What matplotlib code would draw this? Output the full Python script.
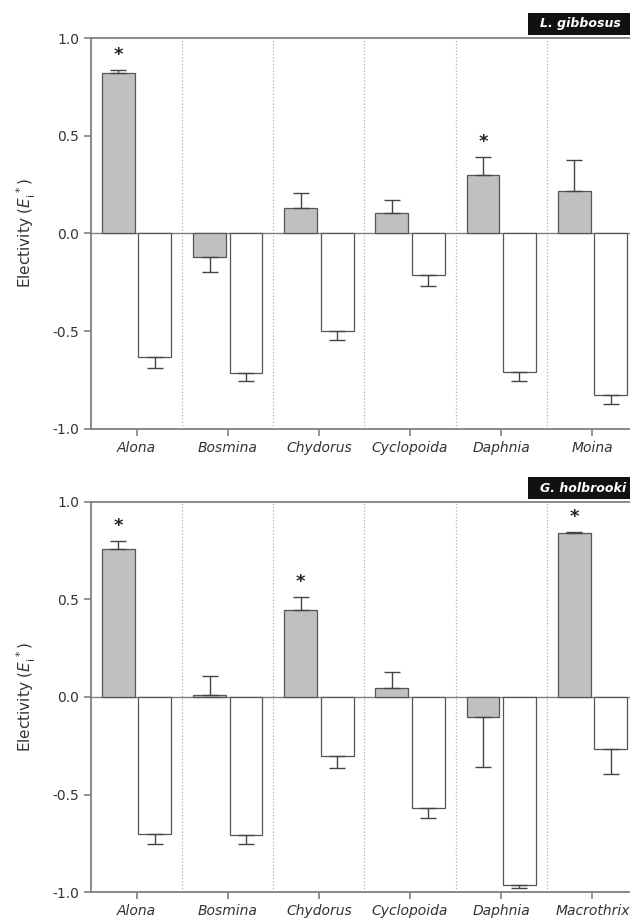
import matplotlib
matplotlib.use("Agg")
import matplotlib.pyplot as plt
import numpy as np
from matplotlib.patches import Rectangle

# top panel: L. gibbosus
taxa_top = ["Alona", "Bosmina", "Chydorus", "Cyclopoida", "Daphnia", "Moina"]
grey_top = [0.82, -0.12, 0.13, 0.105, 0.30, 0.215]
grey_top_err = [0.015, 0.077, 0.077, 0.064, 0.092, 0.162]
white_top = [-0.63, -0.715, -0.497, -0.21, -0.707, -0.826]
white_top_err = [0.056, 0.04, 0.05, 0.056, 0.047, 0.044]
stars_top = [0, 4]

# bottom panel: G. holbrooki
taxa_bot = ["Alona", "Bosmina", "Chydorus", "Cyclopoida", "Daphnia", "Macrothrix"]
grey_bot = [0.758, 0.012, 0.444, 0.045, -0.104, 0.838]
grey_bot_err = [0.043, 0.096, 0.068, 0.083, 0.252, 0.009]
white_bot = [-0.701, -0.705, -0.304, -0.568, -0.961, -0.266]
white_bot_err = [0.053, 0.046, 0.061, 0.05, 0.017, 0.128]
stars_bot = [0, 2, 5]

W, H = 630, 921
AX_COL = "#808080"
TXT_COL = "#333333"


def one_sided(vals, errs):
    vals = np.asarray(vals)
    errs = np.asarray(errs)
    lower = np.where(vals < 0, errs, 0)
    upper = np.where(vals >= 0, errs, 0)
    return np.vstack([lower, upper])


def panel(fig, rect, taxa, grey, grey_err, white, white_err, stars, title, box_top):
    ax = fig.add_axes(rect)
    x = np.arange(len(taxa))
    bw = 0.36
    off = 0.2
    ax.bar(x - off, grey, bw, color="#c0c0c0", edgecolor="#555555", linewidth=0.9,
           yerr=one_sided(grey, grey_err), capsize=6,
           error_kw=dict(ecolor="#444444", elinewidth=1.0, capthick=1.0), zorder=3)
    ax.bar(x + off, white, bw, color="white", edgecolor="#555555", linewidth=0.9,
           yerr=one_sided(white, white_err), capsize=6,
           error_kw=dict(ecolor="#444444", elinewidth=1.0, capthick=1.0), zorder=3)
    for i in stars:
        top = grey[i] + grey_err[i]
        ax.text(x[i] - off, top + 0.03, "*", ha="center", va="bottom",
                fontsize=13, fontweight="bold", color="#222222", zorder=4)
    for b in np.arange(0.5, len(taxa) - 0.5, 1.0):
        ax.axvline(b, color="#b0b0b0", linestyle=":", linewidth=0.9, zorder=1)
    ax.axhline(0, color=AX_COL, linewidth=1.0, zorder=2)

    ax.set_xlim(-0.5, len(taxa) - 0.5)
    ax.set_ylim(-1.0, 1.0)
    ax.set_yticks([-1.0, -0.5, 0.0, 0.5, 1.0])
    ax.set_yticklabels(["-1.0", "-0.5", "0.0", "0.5", "1.0"])
    ax.set_xticks(x)
    ax.set_xticklabels(taxa, fontstyle="italic")
    ax.tick_params(axis="both", direction="out", length=5, width=1.2, color=AX_COL,
                   labelsize=10, labelcolor=TXT_COL)
    for s in ["left", "bottom", "top"]:
        ax.spines[s].set_color(AX_COL)
        ax.spines[s].set_linewidth(1.3)
    ax.spines["right"].set_visible(False)
    ax.set_ylabel(r"Electivity ($\mathit{E}_{\mathrm{i}}^{\,*}$)", fontsize=11,
                  color=TXT_COL, labelpad=10)

    # black label box at the top right
    y0 = 1 - (box_top + 22) / H
    fig.patches.append(Rectangle((528 / W, y0), (640 - 528) / W, 22 / H,
                                 transform=fig.transFigure, facecolor="#111111",
                                 edgecolor="none"))
    fig.text(540 / W, y0 + 11 / H, title, ha="left", va="center", color="white",
             fontsize=9, fontweight="bold", fontstyle="italic")
    return ax


fig = plt.figure(figsize=(W / 100, H / 100), dpi=100)
fig.patch.set_facecolor("white")

left = 91 / W
width = (638 - 91) / W
panel(fig, [left, 1 - 429 / H, width, (429 - 38) / H], taxa_top,
      grey_top, grey_top_err, white_top, white_top_err, stars_top, "L. gibbosus", 13)
panel(fig, [left, 1 - 892.3 / H, width, (892.3 - 501.7) / H], taxa_bot,
      grey_bot, grey_bot_err, white_bot, white_bot_err, stars_bot, "G. holbrooki", 477)

fig.savefig("out.png", dpi=100)
